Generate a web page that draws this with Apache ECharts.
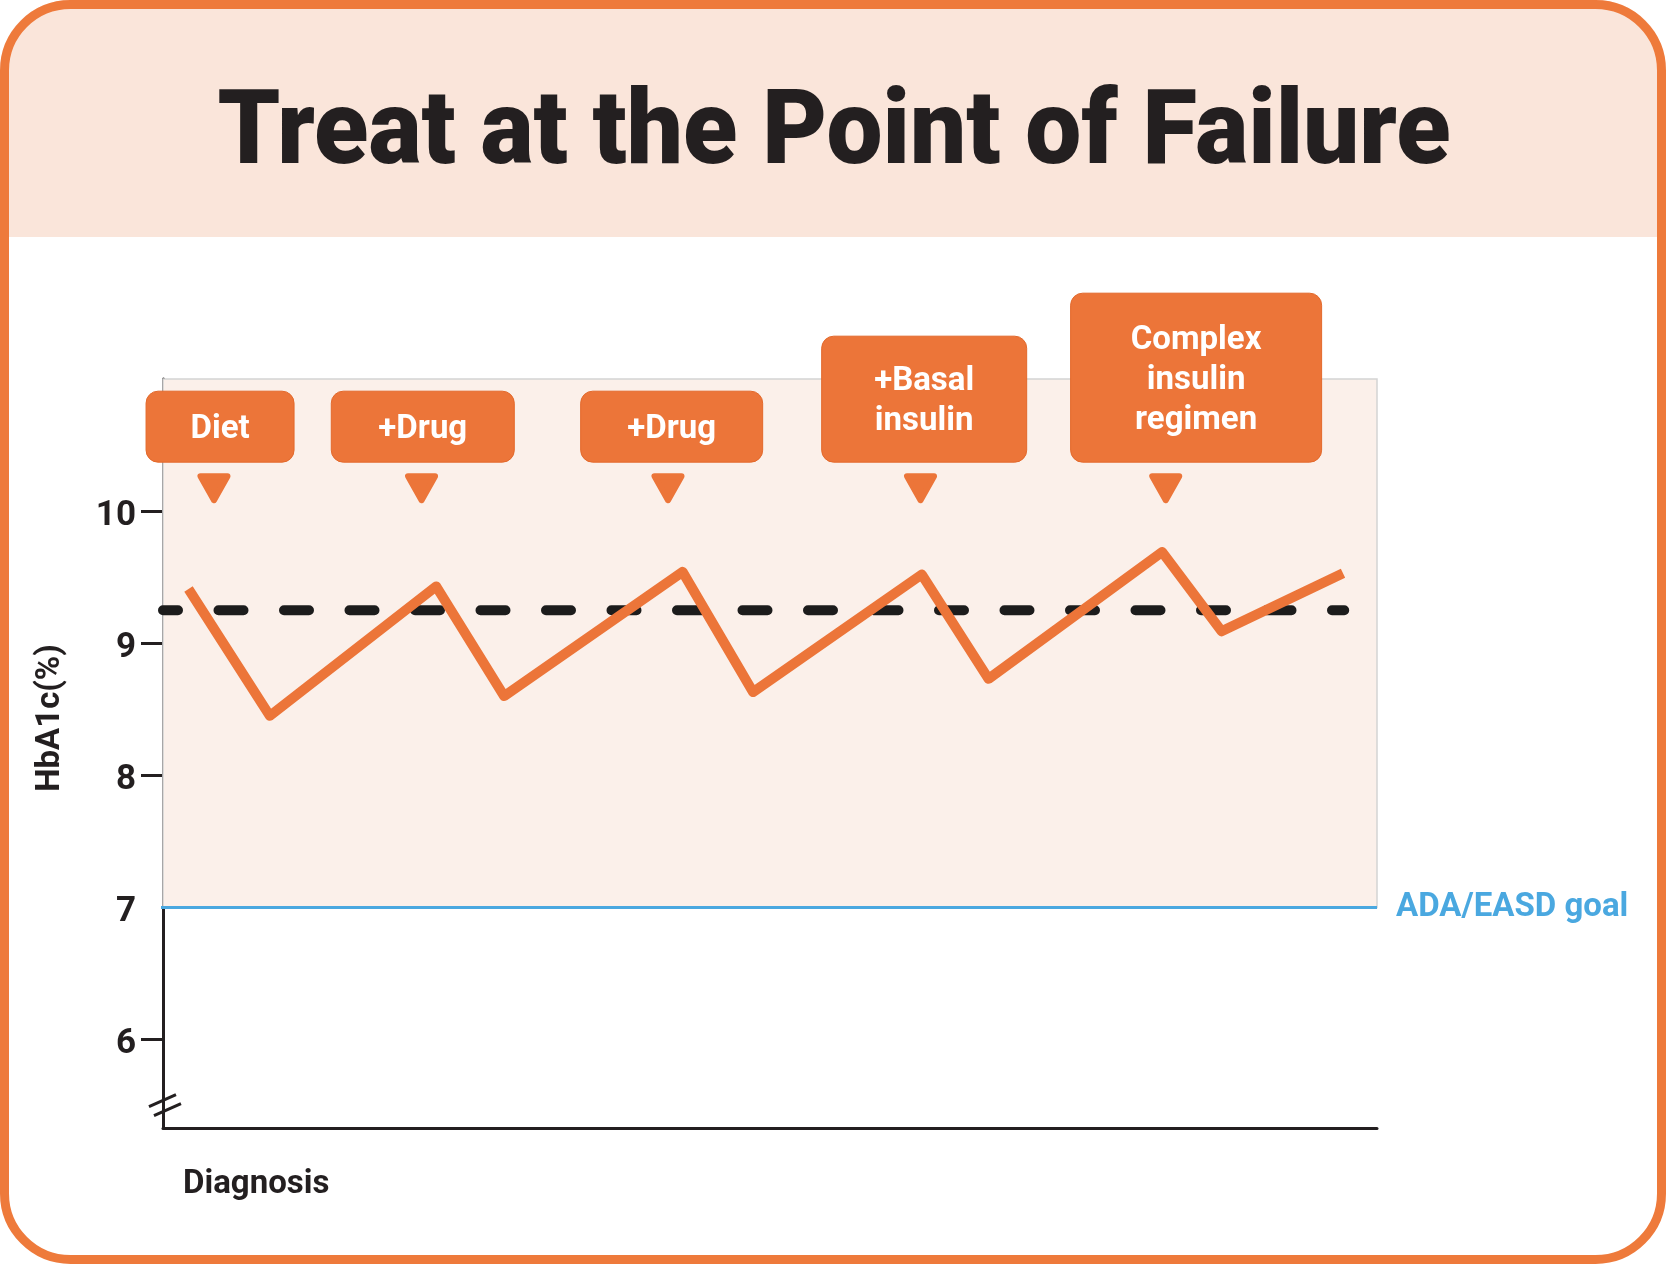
<!DOCTYPE html>
<html>
<head>
<meta charset="utf-8">
<script src="https://cdn.jsdelivr.net/npm/echarts@6/dist/echarts.min.js"></script>
<style>
html,body{margin:0;padding:0;background:#ffffff;}
#chart{width:1666px;height:1264px;}
</style>
</head>
<body>
<div id="chart"></div>
<script>
// ---------------- data ----------------
const titleText = 'Treat at the Point of Failure';
const yAxisName = 'HbA1c(%)';
const xStartLabel = 'Diagnosis';
const goalLabel = 'ADA/EASD goal';
const yLabelValues = [6, 7, 8, 9, 10];
const yTickValues = [6, 8, 9, 10];

// HbA1c trajectory (time axis 0..100 from diagnosis)
const timeX = [2.1, 8.8, 22.5, 28.1, 42.8, 48.6, 62.5, 68.0, 82.3, 87.2, 97.2];
const hba1c = [9.41, 8.45, 9.43, 8.60, 9.54, 8.63, 9.52, 8.73, 9.69, 9.09, 9.53];

// treatment-failure threshold (dashed)
const thresholdX = [0, 97.3];
const thresholdValue = 9.25;

// ADA/EASD goal
const goalX = [-1.4, 100];
const goalValue = 7;

// shaded band above goal
const bandRange = [7, 11];

// treatment steps
const treatmentLabels = ['Diet', '+Drug', '+Drug', '+Basal\ninsulin', 'Complex\ninsulin\nregimen'];
const treatmentX = [4.2, 21.3, 41.6, 62.4, 82.6];
const treatmentBoxX = [4.7, 21.4, 41.9, 62.7, 85.1];

// ---------------- layout / style ----------------
const DARK = '#231f20';
const ORANGE = '#ec7539';
const BLUE = '#4aa8e0';
const FONT = 'Roboto, "Noto Sans", sans-serif';
const CALLOUT_TIP = 10.06;
const BOX_W = [148, 183, 182, 205, 251];
const BOX_H = {1: 71, 2: 126, 3: 169};

function measure(font, text) {
  const c = document.createElement('canvas').getContext('2d');
  c.font = font;
  return c.measureText(text).width;
}
const titleFont = '900 104px Roboto';
const titleScale = 1233 / measure(titleFont, titleText);

const chart = echarts.init(document.getElementById('chart'), null, {renderer: 'canvas'});

const option = {
  animation: false,
  backgroundColor: '#ffffff',
  grid: {left: 163, right: 289, top: 379, bottom: 136, containLabel: false},
  xAxis: {
    type: 'value', min: 0, max: 100,
    axisLine: {show: true, onZero: false, lineStyle: {color: DARK, width: 3}},
    axisTick: {show: false}, axisLabel: {show: false}, splitLine: {show: false}
  },
  yAxis: {
    type: 'value', min: 5.33, max: 11,
    axisLine: {show: true, onZero: false, lineStyle: {color: DARK, width: 3}},
    axisTick: {show: true, length: 22, customValues: yTickValues, lineStyle: {color: DARK, width: 3}},
    axisLabel: {show: true, customValues: yLabelValues, margin: 27, fontSize: 35, fontWeight: 'bold',
                fontFamily: FONT, color: DARK, verticalAlign: 'top', lineHeight: 10},
    splitLine: {show: false}
  },
  series: [
    {
      name: 'band', type: 'line', data: [], z: 1, silent: true,
      markArea: {
        silent: true,
        itemStyle: {color: '#fbf0ea', borderColor: '#d3d3d3', borderWidth: 1.5},
        data: [[{xAxis: 0, yAxis: bandRange[0]}, {xAxis: 100, yAxis: bandRange[1]}]]
      }
    },
    {
      name: 'threshold', type: 'line', z: 3, silent: true,
      data: thresholdX.map(x => [x, thresholdValue]),
      showSymbol: false, symbol: 'none',
      lineStyle: {color: '#1c1c1c', width: 10, type: [25, 40.5], dashOffset: 10, cap: 'round'}
    },
    {
      name: 'goal', type: 'line', z: 3, silent: true, clip: false,
      data: goalX.map(x => [x, goalValue]),
      showSymbol: false, symbol: 'none',
      lineStyle: {color: BLUE, width: 3},
      endLabel: {show: true, formatter: goalLabel, distance: 19, fontSize: 33, fontWeight: 'bold',
                 fontFamily: FONT, color: BLUE, padding: [4, 0, 0, 0]}
    },
    {
      name: 'HbA1c', type: 'line', z: 4, silent: true,
      data: timeX.map((x, i) => [x, hba1c[i]]),
      showSymbol: false, symbol: 'none',
      lineStyle: {color: ORANGE, width: 10, join: 'round', cap: 'butt'}
    },
    {
      name: 'treatments', type: 'custom', z: 5, clip: false, silent: true,
      encode: {x: 0, y: 1},
      data: treatmentX.map((x, i) => [x, CALLOUT_TIP, treatmentBoxX[i]]),
      renderItem: function (params, api) {
        const i = params.dataIndex;
        const tip = api.coord([api.value(0), api.value(1)]);
        const bc = api.coord([api.value(2), api.value(1)]);
        const label = treatmentLabels[i];
        const lines = label.split('\n').length;
        const h = BOX_H[lines];
        const w = BOX_W[i];
        const boxBottom = tip[1] - 41;
        return {
          type: 'group',
          children: [
            {type: 'rect', shape: {x: bc[0] - w / 2, y: boxBottom - h, width: w, height: h, r: 12},
             style: {fill: ORANGE, stroke: '#e3692b', lineWidth: 1}},
            {type: 'polygon', shape: {points: [[tip[0] - 13.5, tip[1] - 27], [tip[0] + 13.5, tip[1] - 27], [tip[0], tip[1] - 3]]},
             style: {fill: ORANGE, stroke: ORANGE, lineWidth: 6, lineJoin: 'round'}},
            {type: 'text', x: bc[0], y: boxBottom - h / 2 + 3,
             style: {text: label, fill: '#ffffff', fontSize: 33, fontWeight: 'bold', fontFamily: FONT,
                     align: 'center', verticalAlign: 'middle', lineHeight: 40}}
          ]
        };
      }
    }
  ],
  graphic: [
    {id: 'header', type: 'rect', z: -10, shape: {x: 0, y: 0, width: 1666, height: 237, r: [70, 70, 0, 0]},
     style: {fill: '#fae5da'}},
    {id: 'border', type: 'rect', z: 100, shape: {x: 4.5, y: 4.5, width: 1657, height: 1255, r: 66},
     style: {fill: 'none', stroke: '#ee7a3b', lineWidth: 9}},
    {id: 'title', type: 'text', z: 10, x: 834, y: 137, scaleX: titleScale,
     style: {text: titleText, font: titleFont, fill: DARK, align: 'center', verticalAlign: 'middle'}},
    {id: 'yname', type: 'text', z: 10, x: 51, y: 718, rotation: Math.PI / 2,
     style: {text: yAxisName, fontSize: 33, fontWeight: 'bold', fontFamily: FONT, fill: DARK, align: 'center', verticalAlign: 'middle'}},
    {id: 'diag', type: 'text', z: 10, x: 183, y: 1185,
     style: {text: xStartLabel, fontSize: 33, fontWeight: 'bold', fontFamily: FONT, fill: DARK, align: 'left', verticalAlign: 'middle'}}
  ]
};
chart.setOption(option);

// axis break marks on the y axis
const bp = chart.convertToPixel({gridIndex: 0}, [0, 5.5]);
chart.setOption({
  graphic: [
    {id: 'brk1', type: 'line', z: 20, shape: {x1: bp[0] - 14, y1: bp[1] + 1, x2: bp[0] + 13, y2: bp[1] - 11},
     style: {stroke: DARK, lineWidth: 3}},
    {id: 'brk2', type: 'line', z: 20, shape: {x1: bp[0] - 9, y1: bp[1] + 10, x2: bp[0] + 18, y2: bp[1] - 2},
     style: {stroke: DARK, lineWidth: 3}}
  ]
});
</script>
</body>
</html>
